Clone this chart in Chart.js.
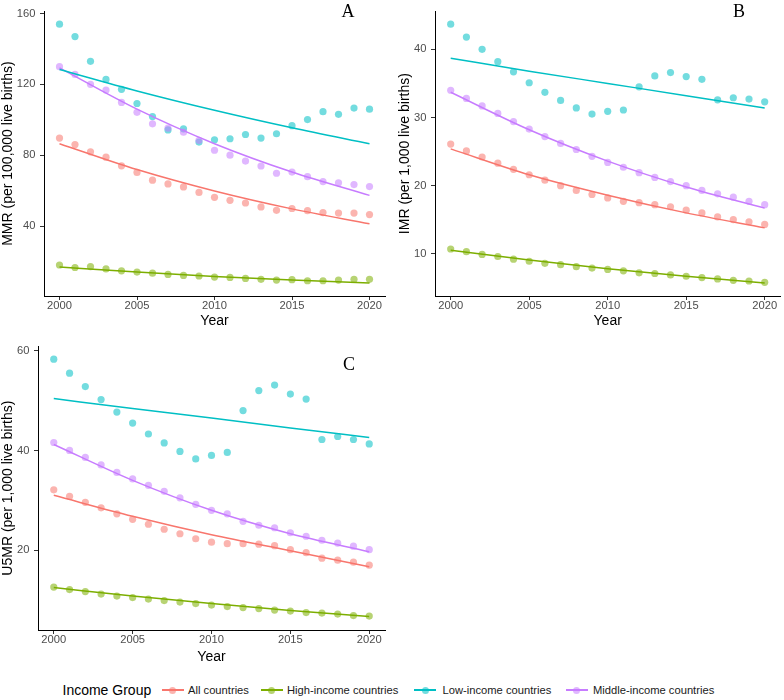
<!DOCTYPE html>
<html>
<head>
<meta charset="utf-8">
<script src="https://cdn.jsdelivr.net/npm/chart.js@4.4.1/dist/chart.umd.min.js"></script>
<style>
  body { margin: 0; background: #fff; }
  #wrap { position: relative; width: 784px; height: 700px; font-family: "Liberation Sans", Arial, sans-serif; }
  #wrap canvas { position: absolute; }
  .letter { position: absolute; width: 30px; text-align: center; font-family: "Liberation Serif", "Times New Roman", serif; font-size: 18px; line-height: 18px; color: #000; }
  .legtext { position: absolute; top: 682px; line-height: 16px; white-space: nowrap; color: #1a1a1a; }
  .legline { position: absolute; top: 689px; width: 22px; height: 1.5px; }
  .legdot { position: absolute; top: 686.5px; width: 7px; height: 7px; border-radius: 50%; }
</style>
</head>
<body>
<div id="wrap">
  <canvas id="panelA" width="392" height="335" style="left:0;top:0"></canvas>
  <canvas id="panelB" width="392" height="335" style="left:392px;top:0"></canvas>
  <canvas id="panelC" width="392" height="335" style="left:0;top:335px"></canvas>
  <div class="letter" style="left:333px;top:2px">A</div>
  <div class="letter" style="left:724px;top:2px">B</div>
  <div class="letter" style="left:334px;top:355px">C</div>
  <div id="legend"></div>
</div>
<script>
// years on the x axis, fitted curves read at 5-year steps
var years = [2000, 2001, 2002, 2003, 2004, 2005, 2006, 2007, 2008, 2009, 2010,
             2011, 2012, 2013, 2014, 2015, 2016, 2017, 2018, 2019, 2020];
var fitYears = [2000, 2005, 2010, 2015, 2020];
var yearTicks = [2000, 2005, 2010, 2015, 2020];
var groups = ['All countries', 'High-income countries', 'Low-income countries', 'Middle-income countries'];

// A: maternal mortality ratio
var mmrTicks  = [40, 80, 120, 160];
var mmrAll    = [89.7, 86.0, 81.9, 78.9, 74.0, 70.3, 65.9, 63.8, 62.1, 59.0, 56.2, 54.5, 53.0, 50.8, 48.9, 49.9, 48.7, 47.6, 47.3, 47.3, 46.5];
var mmrHigh   = [18.0, 16.6, 17.1, 15.8, 14.7, 14.0, 13.4, 12.7, 12.1, 11.8, 11.2, 11.0, 10.4, 9.9, 9.5, 9.7, 9.1, 9.1, 9.5, 9.9, 9.9];
var mmrLow    = [154.0, 147.0, 133.0, 122.8, 117.2, 109.2, 101.8, 94.3, 94.9, 87.4, 88.7, 89.3, 91.7, 89.7, 92.1, 96.7, 100.1, 104.6, 103.1, 106.6, 106.0];
var mmrMiddle = [130.0, 125.6, 120.0, 116.8, 109.8, 104.2, 97.7, 95.3, 93.0, 88.4, 82.8, 80.0, 76.7, 73.9, 69.8, 70.5, 67.9, 65.1, 64.4, 63.4, 62.3];
var mmrAllFit    = [86.5, 71.9, 59.8, 49.7, 41.3];
var mmrHighFit   = [16.9, 14.0, 11.5, 9.5, 7.8];
var mmrLowFit    = [128.4, 116.3, 105.4, 95.5, 86.5];
var mmrMiddleFit = [129.3, 106.0, 86.5, 70.5, 57.3];

// B: infant mortality rate
var imrTicks  = [10, 20, 30, 40];
var imrAll    = [26.1, 25.1, 24.2, 23.3, 22.4, 21.6, 20.8, 20.0, 19.3, 18.7, 18.2, 17.7, 17.5, 17.2, 16.9, 16.4, 16.0, 15.4, 15.0, 14.7, 14.3];
var imrHigh   = [10.7, 10.3, 9.9, 9.6, 9.2, 8.9, 8.6, 8.4, 8.1, 7.9, 7.7, 7.5, 7.2, 7.1, 6.9, 6.7, 6.5, 6.3, 6.1, 6.0, 5.8];
var imrLow    = [43.7, 41.8, 40.0, 38.2, 36.7, 35.1, 33.7, 32.5, 31.4, 30.5, 30.9, 31.1, 34.5, 36.1, 36.6, 36.0, 35.6, 32.6, 32.9, 32.7, 32.3];
var imrMiddle = [34.0, 32.8, 31.7, 30.6, 29.4, 28.3, 27.2, 26.2, 25.3, 24.3, 23.4, 22.7, 21.9, 21.2, 20.6, 20.0, 19.3, 18.8, 18.3, 17.7, 17.2];
var imrAllFit    = [25.4, 21.6, 18.6, 16.0, 13.8];
var imrHighFit   = [10.5, 9.1, 7.8, 6.7, 5.7];
var imrLowFit    = [38.7, 36.8, 35.0, 33.2, 31.4];
var imrMiddleFit = [33.7, 28.2, 23.6, 19.8, 16.7];

// C: under-five mortality rate
var u5Ticks  = [20, 40, 60];
var u5All    = [32.1, 30.8, 29.6, 28.5, 27.3, 26.2, 25.2, 24.2, 23.3, 22.3, 21.6, 21.3, 21.3, 21.2, 20.9, 20.1, 19.5, 18.4, 18.0, 17.6, 17.0];
var u5High   = [12.6, 12.1, 11.7, 11.2, 10.8, 10.5, 10.2, 9.9, 9.6, 9.3, 9.0, 8.7, 8.5, 8.3, 8.0, 7.8, 7.5, 7.4, 7.2, 6.9, 6.8];
var u5Low    = [58.3, 55.5, 52.8, 50.2, 47.7, 45.5, 43.3, 41.5, 39.8, 38.3, 39.0, 39.6, 48.0, 52.0, 53.1, 51.3, 50.3, 42.2, 42.8, 42.2, 41.3];
var u5Middle = [41.6, 40.0, 38.6, 37.1, 35.6, 34.3, 33.0, 31.8, 30.5, 29.2, 28.0, 27.3, 25.8, 25.0, 24.5, 23.5, 22.8, 22.0, 21.4, 20.8, 20.1];
var u5AllFit    = [31.0, 26.8, 23.1, 19.9, 16.7];
var u5HighFit   = [12.5, 10.8, 9.3, 7.9, 6.7];
var u5LowFit    = [50.4, 48.4, 46.5, 44.5, 42.6];
var u5MiddleFit = [41.2, 34.0, 28.0, 23.3, 19.7];

var lineColors = ['#F8766D', '#7CAE00', '#00BFC4', '#C77CFF'];
var dotColors = ['rgba(248,118,109,0.55)', 'rgba(124,174,0,0.55)', 'rgba(0,191,196,0.55)', 'rgba(199,124,255,0.55)'];

Chart.defaults.font.family = '"Liberation Sans", Arial, sans-serif';

function pairs(xs, ys) {
  return xs.map(function(x, i) { return {x: x, y: ys[i]}; });
}

function fixedTicks(list) {
  return function(s) { s.ticks = list.map(function(v) { return {value: v}; }); };
}

function makePanel(id, yTitle, yMin, yMax, yTicks, points, fits, box) {
  var datasets = [];
  // fitted lines first so they sit above the dots
  fits.forEach(function(f, i) {
    datasets.push({
      data: pairs(fitYears, f), showLine: true, borderColor: lineColors[i], borderWidth: 1.5,
      pointRadius: 0, cubicInterpolationMode: 'monotone', fill: false
    });
  });
  for (var i = points.length - 1; i >= 0; i--) {
    datasets.push({
      data: pairs(years, points[i]), showLine: false, pointRadius: 3.6,
      pointBackgroundColor: dotColors[i], pointBorderWidth: 0, pointHoverRadius: 3.6
    });
  }
  return new Chart(document.getElementById(id), {
    type: 'scatter',
    data: { datasets: datasets },
    options: {
      responsive: false, animation: false, devicePixelRatio: 1,
      layout: { padding: { left: 0, top: box.top, right: box.right, bottom: 0 } },
      plugins: { legend: { display: false }, tooltip: { enabled: false } },
      scales: {
        x: {
          type: 'linear', min: 1999, max: 2021,
          afterBuildTicks: fixedTicks(yearTicks),
          afterFit: function(s) { s.height = box.xh; },
          grid: { display: true, drawOnChartArea: false, tickLength: 4, tickColor: '#333' },
          border: { display: true, color: '#000', width: 1 },
          ticks: { padding: 0, color: '#4D4D4D', font: { size: 11.2, lineHeight: 1 },
                   callback: function(v) { return String(v); } },
          title: { display: true, text: 'Year', color: '#000', font: { size: 14, lineHeight: 1.2 },
                   padding: { top: 0, bottom: box.titlePad } }
        },
        y: {
          type: 'linear', min: yMin, max: yMax,
          afterBuildTicks: fixedTicks(yTicks),
          afterFit: function(s) { s.width = box.yw; },
          grid: { display: true, drawOnChartArea: false, tickLength: 4, tickColor: '#333' },
          border: { display: true, color: '#000', width: 1 },
          ticks: { padding: 4.5, color: '#4D4D4D', font: { size: 11.2 },
                   callback: function(v) { return String(v); } },
          title: { display: true, text: yTitle, color: '#000', font: { size: 14, lineHeight: 1.2 },
                   padding: { top: box.yPad, bottom: 0 } }
        }
      }
    }
  });
}

makePanel('panelA', 'MMR (per 100,000 live births)', 0.5, 161.3, mmrTicks,
  [mmrAll, mmrHigh, mmrLow, mmrMiddle], [mmrAllFit, mmrHighFit, mmrLowFit, mmrMiddleFit],
  { top: 8, right: 7, xh: 39, yw: 44, titlePad: 5, yPad: 0 });
makePanel('panelB', 'IMR (per 1,000 live births)', 3.8, 45.6, imrTicks,
  [imrAll, imrHigh, imrLow, imrMiddle], [imrAllFit, imrHighFit, imrLowFit, imrMiddleFit],
  { top: 7, right: 2, xh: 39, yw: 43, titlePad: 5, yPad: 5 });
makePanel('panelC', 'U5MR (per 1,000 live births)', 4.0, 60.9, u5Ticks,
  [u5All, u5High, u5Low, u5Middle], [u5AllFit, u5HighFit, u5LowFit, u5MiddleFit],
  { top: 8, right: 7, xh: 40, yw: 38, titlePad: 4.6, yPad: 0 });

// legend along the bottom
var legend = document.getElementById('legend');
var keyCenters = [172.5, 271.5, 425, 576.5];
var textLefts = [188, 287, 442.5, 593];
var html = '<div class="legtext" style="left:62.5px;font-size:14px;color:#000">Income Group</div>';
groups.forEach(function(g, i) {
  html += '<div class="legline" style="left:' + (keyCenters[i] - 11) + 'px;background:' + lineColors[i] + '"></div>';
  html += '<div class="legdot" style="left:' + (keyCenters[i] - 3.5) + 'px;background:' + dotColors[i] + '"></div>';
  html += '<div class="legtext" style="left:' + textLefts[i] + 'px;font-size:11.2px">' + g + '</div>';
});
legend.innerHTML = html;
</script>
</body>
</html>
